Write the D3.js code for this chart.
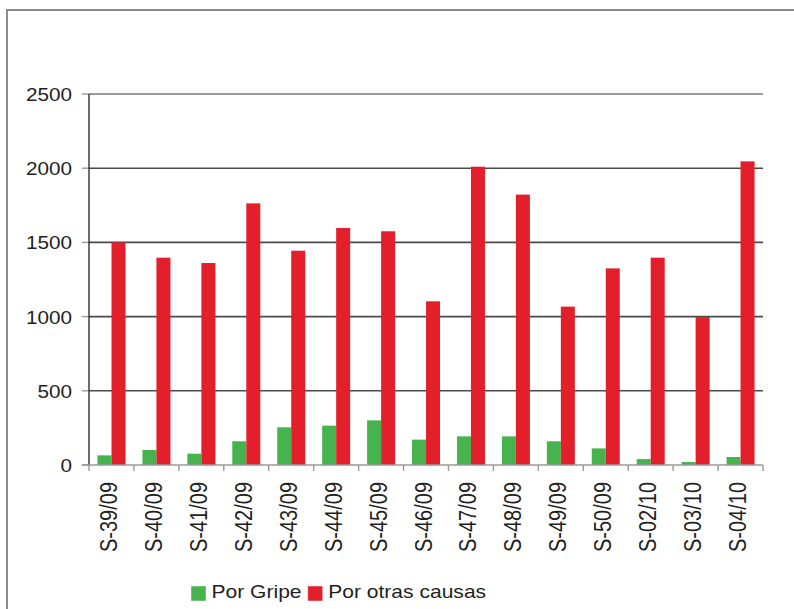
<!DOCTYPE html>
<html><head><meta charset="utf-8">
<script src="https://cdn.jsdelivr.net/npm/d3@7"></script>
<style>
body{margin:0;background:#fff}
svg{display:block}
text{font-family:"Liberation Sans",Arial,Helvetica,sans-serif;fill:#231f20}
</style></head><body>
<script>
const categories=["S-39/09","S-40/09","S-41/09","S-42/09","S-43/09","S-44/09","S-45/09","S-46/09","S-47/09","S-48/09","S-49/09","S-50/09","S-02/10","S-03/10","S-04/10"];
const porGripe=[65,101,76,160,254,265,301,171,193,193,160,112,40,20,54];
const porOtras=[1500,1397,1361,1763,1444,1597,1575,1103,2010,1822,1067,1325,1397,997,2046];
const seriesNames=["Por Gripe","Por otras causas"];
const seriesColors=["#46b34f","#e31f2b"];
const yTicks=[0,500,1000,1500,2000,2500];

const W=794,H=609;
const svg=d3.select("body").append("svg").attr("width",W).attr("height",H);

// outer frame
svg.append("rect").attr("x",7).attr("y",10).attr("width",W+20).attr("height",H+20)
  .attr("fill","none").attr("stroke","#8c8c8c").attr("stroke-width",2);

const pL=89,pR=763,pT=94,pB=465;
const x=d3.scaleBand().domain(categories).range([pL,pR]).padding(0);
const x1=d3.scaleBand().domain(seriesNames).range([8.5,36.5]).padding(0);
const y=d3.scaleLinear().domain([0,2500]).range([pB,pT]);

// gridlines
svg.append("g").selectAll("line").data(yTicks.filter(d=>d>0)).join("line")
  .attr("x1",pL).attr("x2",pR).attr("y1",d=>y(d)).attr("y2",d=>y(d))
  .attr("stroke",d=>d===2500?"#7a7a7a":"#4a4a4a").attr("stroke-width",1.6);

// y ticks
svg.append("g").selectAll("line").data(yTicks).join("line")
  .attr("x1",pL-7).attr("x2",pL).attr("y1",d=>y(d)).attr("y2",d=>y(d))
  .attr("stroke","#9a9a9a").attr("stroke-width",1.4);

// y labels
svg.append("g").selectAll("text").data(yTicks).join("text")
  .attr("transform",d=>`translate(72,${y(d)+7}) scale(1.15,1)`)
  .attr("text-anchor","end").attr("font-size",18).text(d=>d);

// bars
const data=categories.map((c,i)=>({cat:c,vals:[porGripe[i],porOtras[i]]}));
const groups=svg.append("g").selectAll("g").data(data).join("g")
  .attr("transform",d=>`translate(${x(d.cat)},0)`);
groups.selectAll("rect").data(d=>d.vals.map((v,j)=>({name:seriesNames[j],v,j}))).join("rect")
  .attr("x",d=>x1(d.name)).attr("width",x1.bandwidth())
  .attr("y",d=>y(d.v)).attr("height",d=>y(0)-y(d.v))
  .attr("fill",d=>seriesColors[d.j]);

// y axis line
svg.append("line").attr("x1",pL).attr("x2",pL).attr("y1",pT).attr("y2",pB)
  .attr("stroke","#231f20").attr("stroke-width",1.3);

// x axis line and ticks
svg.append("line").attr("x1",pL-7).attr("x2",pR).attr("y1",pB).attr("y2",pB)
  .attr("stroke","#9a9a9a").attr("stroke-width",1.6);
const bounds=categories.map(c=>x(c)).concat([pR]);
svg.append("g").selectAll("line").data(bounds).join("line")
  .attr("x1",d=>d).attr("x2",d=>d).attr("y1",pB).attr("y2",pB+6)
  .attr("stroke","#9a9a9a").attr("stroke-width",1.4);

// x labels
svg.append("g").selectAll("text").data(categories).join("text")
  .attr("transform",d=>`translate(${x(d)+x.bandwidth()/2+5.5},482) scale(1.15,1) rotate(-90)`)
  .attr("text-anchor","end").attr("font-size",20).text(d=>d);

// legend
const legX=[191,307.7];
const leg=svg.append("g").selectAll("g").data(seriesNames).join("g")
  .attr("transform",(d,i)=>`translate(${legX[i]},586)`);
leg.append("rect").attr("width",15).attr("height",15).attr("fill",(d,i)=>seriesColors[i])
  .attr("stroke","#ffffff").attr("stroke-opacity",0.45).attr("stroke-width",1);
leg.append("text").attr("transform","translate(20.5,11.5) scale(1.17,1)")
  .attr("font-size",18).text(d=>d);
</script>
</body></html>
